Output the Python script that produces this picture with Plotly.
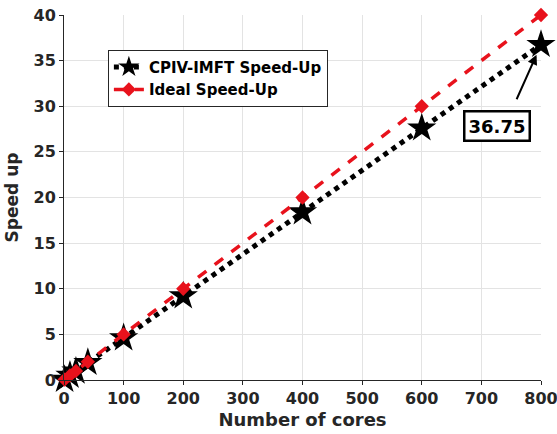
import plotly.graph_objects as go

cores = [1, 10, 20, 40, 100, 200, 400, 600, 800]
speedup_cpiv = [0.05, 0.5, 0.95, 1.9, 4.6, 9.2, 18.4, 27.6, 36.75]
speedup_ideal = [0.05, 0.5, 1, 2, 5, 10, 20, 30, 40]
x_ticks = [0, 100, 200, 300, 400, 500, 600, 700, 800]
y_ticks = [0, 5, 10, 15, 20, 25, 30, 35, 40]

FONT = "DejaVu Sans"
TXT = "#262626"

fig = go.Figure()
fig.add_trace(go.Scatter(
    x=cores, y=speedup_cpiv, name="<b>CPIV-IMFT Speed-Up</b>", mode="lines+markers",
    line=dict(color="black", width=5, dash="dot"),
    marker=dict(symbol="star", size=22, color="black"), cliponaxis=False,
))
fig.add_trace(go.Scatter(
    x=cores, y=speedup_ideal, name="<b>Ideal Speed-Up</b>", mode="lines+markers",
    line=dict(color="#e8121c", width=3.5, dash="dash"),
    marker=dict(symbol="diamond", size=11, color="#e8121c"), cliponaxis=False,
))

# arrow + boxed value label at the last point
fig.add_annotation(
    x=cores[-1], y=speedup_cpiv[-1], ax=758, ay=30.6, axref="x", ayref="y",
    text="", showarrow=True, arrowhead=2, arrowsize=1, arrowwidth=2,
    arrowcolor="black", standoff=11,
)
fig.add_annotation(
    x=726, y=27.8, text=f"<b>{speedup_cpiv[-1]:.2f}</b>", showarrow=False,
    font=dict(family=FONT, size=18, color="black"),
    bordercolor="black", borderwidth=2.5, borderpad=3, bgcolor="white",
)

axis_common = dict(
    showgrid=True, gridcolor="#e3e3e3", gridwidth=1,
    showline=True, linecolor=TXT, linewidth=1,
    ticks="outside", ticklen=4, tickcolor=TXT,
    tickfont=dict(family=FONT, size=16, color=TXT),
    zeroline=False, mirror=False, automargin=False,
    ticklabeloverflow="allow",
)
fig.update_xaxes(
    range=[0, 800], tickvals=x_ticks, ticktext=[f"<b>{v}</b>" for v in x_ticks],
    title=dict(text="<b>Number of cores</b>", font=dict(family=FONT, size=18, color=TXT), standoff=6),
    **axis_common,
)
fig.update_yaxes(
    range=[0, 40], tickvals=y_ticks, ticktext=[f"<b>{v}</b>" for v in y_ticks],
    title=dict(text="<b>Speed up</b>", font=dict(family=FONT, size=17, color=TXT), standoff=10),
    **axis_common,
)

fig.update_layout(
    width=557, height=434,
    margin=dict(l=64, r=16, t=15, b=54),
    plot_bgcolor="white", paper_bgcolor="white",
    font=dict(family=FONT, color=TXT),
    legend=dict(
        x=0.092, y=0.905, xanchor="left", yanchor="top",
        bgcolor="white", bordercolor=TXT, borderwidth=1,
        font=dict(family=FONT, size=15, color="black"),
        tracegroupgap=0, itemwidth=30,
    ),
)

# drop the default page margin so the figure sits at the window's corner
fig.write_html("out.html", config={"displayModeBar": False},
               post_script="document.body.style.margin='0';")
